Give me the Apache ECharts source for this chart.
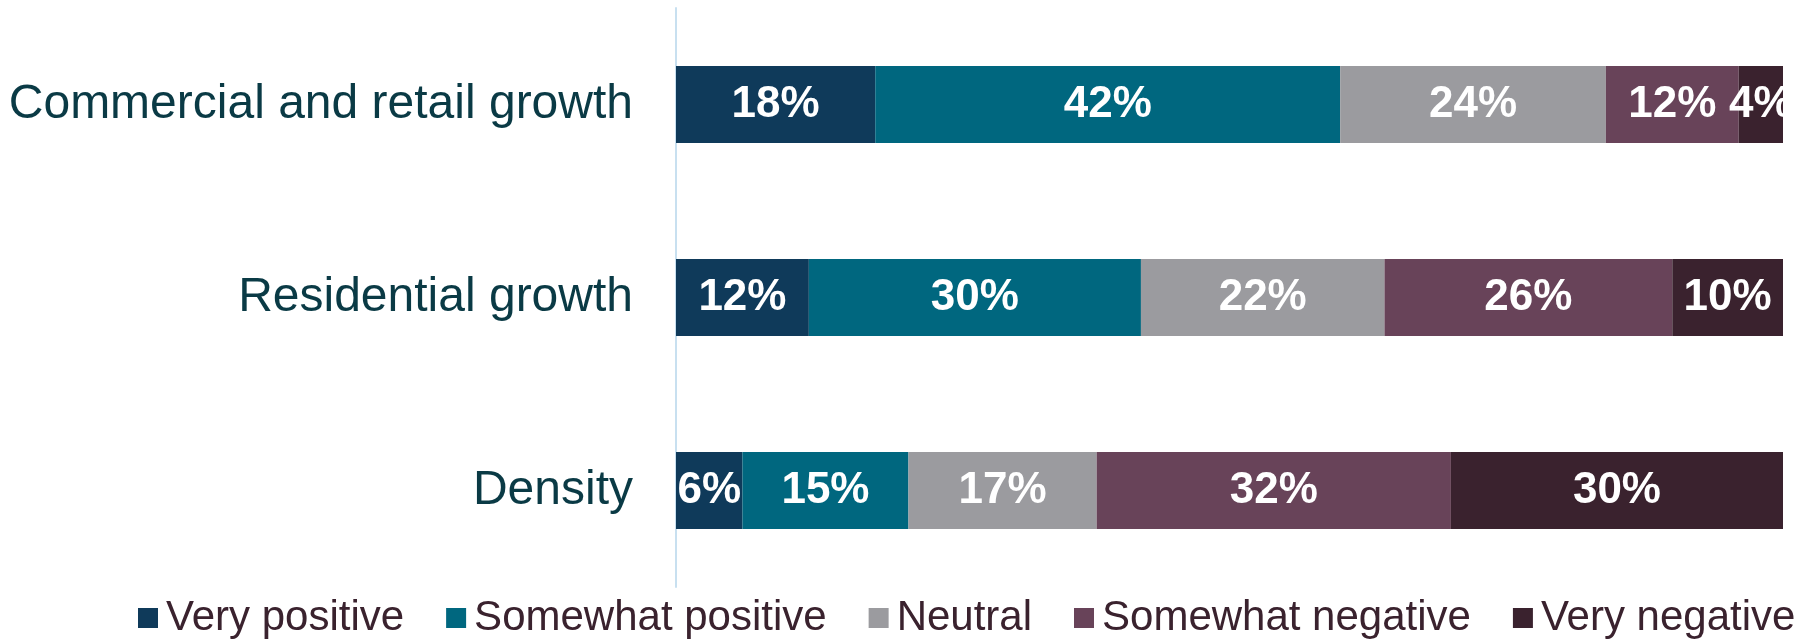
<!DOCTYPE html>
<html><head><meta charset="utf-8">
<script src="https://cdn.jsdelivr.net/npm/echarts@6/dist/echarts.min.js"></script>
<style>html,body{margin:0;padding:0;background:#fff}#c{width:1810px;height:639px}</style>
</head><body><div id="c"></div>
<script>
const categories = ['Commercial and retail growth', 'Residential growth', 'Density'];
const seriesNames = ['Very positive', 'Somewhat positive', 'Neutral', 'Somewhat negative', 'Very negative'];
const veryPositive = [18, 12, 6];
const somewhatPositive = [42, 30, 15];
const neutral = [24, 22, 17];
const somewhatNegative = [12, 26, 32];
const veryNegative = [4, 10, 30];
const colors = ['#0f3a5a', '#00677f', '#9b9b9f', '#684359', '#3a222e'];
const values = [veryPositive, somewhatPositive, neutral, somewhatNegative, veryNegative];
const FONT = '"Liberation Sans", Arial, sans-serif';

const chart = echarts.init(document.getElementById('c'));
chart.setOption({
  animation: false,
  textStyle: { fontFamily: FONT },
  grid: { left: 676, right: 27, top: 8, bottom: 52, containLabel: false, outerBoundsMode: 'none' },
  legend: {
    left: 133, top: 592,
    itemWidth: 20, itemHeight: 20, itemGap: 42,
    icon: 'rect',
    textStyle: { fontSize: 42, color: '#3a222e', fontFamily: FONT, padding: [0, 0, 0, 3] },
    data: seriesNames
  },
  xAxis: {
    type: 'value', min: 0, max: 100,
    show: false
  },
  yAxis: {
    type: 'category', inverse: true, data: categories,
    axisLine: { show: true, lineStyle: { color: '#c8e0f0', width: 2 } },
    axisTick: { show: false },
    axisLabel: { fontSize: 48, color: '#0a3a45', margin: 43, fontFamily: FONT }
  },
  series: seriesNames.map((n, i) => ({
    name: n, type: 'bar', stack: 'total', barWidth: 77,
    itemStyle: { color: colors[i] },
    label: {
      show: true, position: 'inside', formatter: '{c}%',
      color: '#fff', fontWeight: 'bold', fontSize: 44, fontFamily: FONT
    },
    data: values[i]
  }))
});
</script></body></html>
